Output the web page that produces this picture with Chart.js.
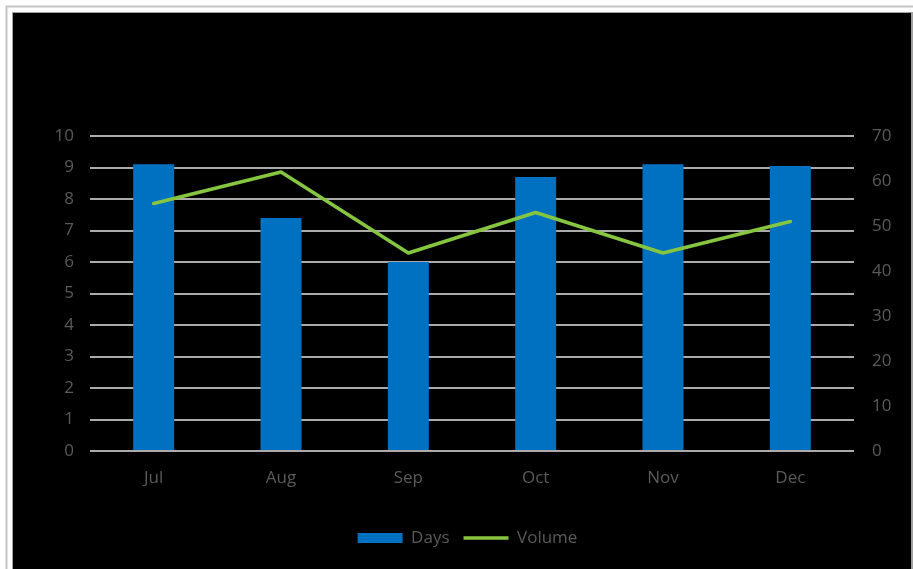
<!DOCTYPE html>
<html>
<head>
<meta charset="utf-8">
<script src="https://cdn.jsdelivr.net/npm/chart.js@4/dist/chart.umd.min.js"></script>
<style>
  html, body { margin: 0; padding: 0; background: #ffffff; overflow: hidden; }
  canvas { display: block; }
</style>
</head>
<body>
<canvas id="c" width="913" height="569"></canvas>
<script>
const categories = ['Jul', 'Aug', 'Sep', 'Oct', 'Nov', 'Dec'];
const daysValues = [9.1, 7.4, 6.0, 8.7, 9.1, 9.05];
const volumeValues = [55, 62, 44, 53, 44, 51];
const leftTicks = [0, 1, 2, 3, 4, 5, 6, 7, 8, 9, 10];
const rightTicks = [0, 10, 20, 30, 40, 50, 60, 70];

const FONT = '"Open Sans", Lato, sans-serif';
const TXT = '#5a5a5a';

const framePlugin = {
  id: 'frame',
  beforeDraw(chart) {
    const ctx = chart.ctx;
    ctx.save();
    ctx.fillStyle = '#ffffff';
    ctx.fillRect(0, 0, 913, 569);
    ctx.strokeStyle = '#c4c4c4';
    ctx.lineWidth = 2;
    ctx.strokeRect(6.5, 6.5, 920, 600);
    ctx.fillStyle = '#a0a0a0';
    ctx.fillRect(12, 12, 901, 600);
    ctx.fillStyle = '#000000';
    ctx.fillRect(13, 13, 898, 600);
    ctx.restore();
  }
};

const legendShift = {
  id: 'legendShift',
  afterLayout(chart) {
    if (chart.legend) { chart.legend.left += 22; }
  }
};

new Chart(document.getElementById('c'), {
  data: {
    labels: categories,
    datasets: [
      {
        type: 'bar',
        label: 'Days',
        data: daysValues,
        backgroundColor: '#0070c0',
        borderWidth: 0,
        yAxisID: 'y',
        order: 2,
        barPercentage: 0.322,
        categoryPercentage: 1,
        pointStyle: 'rect'
      },
      {
        type: 'line',
        label: 'Volume',
        data: volumeValues,
        borderColor: '#86c540',
        backgroundColor: '#86c540',
        borderWidth: 3.5,
        tension: 0,
        pointRadius: 0,
        pointHoverRadius: 0,
        borderJoinStyle: 'round',
        borderCapStyle: 'round',
        yAxisID: 'y2',
        order: 1,
        pointStyle: 'line'
      }
    ]
  },
  options: {
    responsive: false,
    animation: false,
    events: [],
    layout: { padding: { top: 136, left: 0, right: 0, bottom: 12.5 } },
    plugins: {
      tooltip: { enabled: false },
      legend: {
        position: 'bottom',
        labels: {
          usePointStyle: true,
          pointStyleWidth: 45,
          boxHeight: 10,
          padding: 14,
          color: TXT,
          font: { family: FONT, size: 17 },
          sort: (a, b) => a.datasetIndex - b.datasetIndex
        }
      }
    },
    scales: {
      x: {
        offset: true,
        grid: { display: false, drawTicks: false },
        border: { display: false },
        ticks: { color: TXT, font: { family: FONT, size: 17 }, padding: 17 },
        afterFit(s) { s.height = 64.5; }
      },
      y: {
        position: 'left',
        min: 0,
        max: 10,
        afterBuildTicks(s) { s.ticks = leftTicks.map(v => ({ value: v })); },
        grid: { color: '#ababab', lineWidth: 2, drawTicks: false },
        border: { display: false },
        ticks: { color: TXT, font: { family: FONT, size: 17 }, padding: 16 },
        afterFit(s) { s.width = 90; }
      },
      y2: {
        position: 'right',
        min: 0,
        max: 70,
        afterBuildTicks(s) { s.ticks = rightTicks.map(v => ({ value: v })); },
        grid: { display: false, drawTicks: false },
        border: { display: false },
        ticks: { color: TXT, font: { family: FONT, size: 17 }, padding: 18 },
        afterFit(s) { s.width = 59; }
      }
    }
  },
  plugins: [framePlugin, legendShift]
});
</script>
</body>
</html>
